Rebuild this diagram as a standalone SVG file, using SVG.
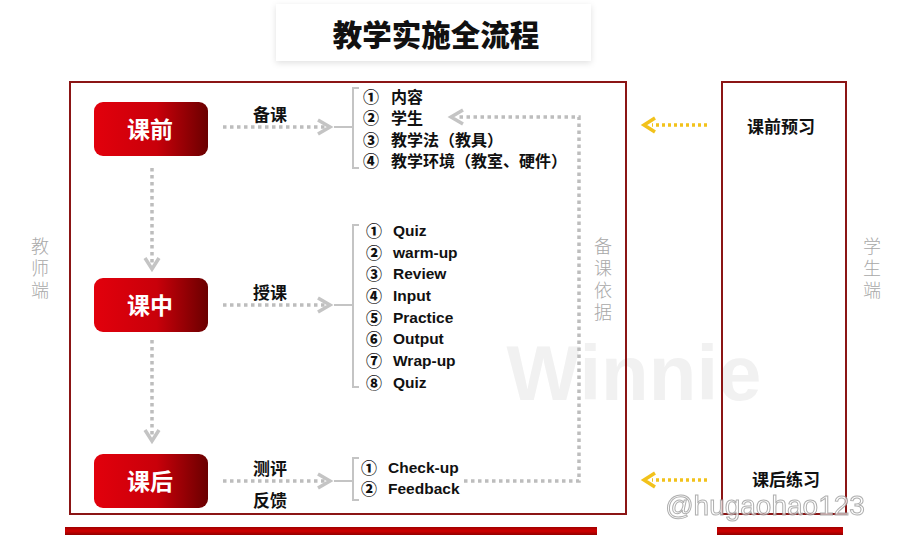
<svg xmlns="http://www.w3.org/2000/svg" width="898" height="538" viewBox="0 0 898 538">
<defs>
<linearGradient id="nodeGrad" x1="0" y1="0" x2="1" y2="0">
<stop offset="0" stop-color="#e2000c"/>
<stop offset="0.55" stop-color="#c9000a"/>
<stop offset="1" stop-color="#6a0000"/>
</linearGradient>
<linearGradient id="barGrad" x1="0" y1="0" x2="0" y2="1">
<stop offset="0" stop-color="#a00000"/>
<stop offset="0.5" stop-color="#d00000"/>
<stop offset="1" stop-color="#900000"/>
</linearGradient>
<filter id="shadow" x="-10%" y="-30%" width="120%" height="170%">
<feDropShadow dx="0" dy="2" stdDeviation="3" flood-color="#000" flood-opacity="0.12"/>
</filter>
</defs>
<style>
.frame{fill:none;stroke:#8b1515;stroke-width:2}
.dot{fill:none;stroke:#bdbdbd;stroke-width:3.5;stroke-dasharray:3.5 3.5}
.doty{fill:none;stroke:#f2c21b;stroke-width:3.5;stroke-dasharray:3 3}
.chev{fill:none;stroke:#c4c4c4;stroke-width:3.5}
.chevy{fill:none;stroke:#f2c21b;stroke-width:3.5}
.solid{fill:none;stroke:#c4c4c4;stroke-width:2}
.node{fill:url(#nodeGrad)}
.nlabel{font-family:"Noto Sans CJK SC","Noto Sans",sans-serif;font-weight:700;font-size:23px;fill:#fff;text-anchor:middle;dominant-baseline:central}
.lab{font-family:"Noto Sans CJK SC",sans-serif;font-weight:700;font-size:17px;fill:#111;text-anchor:middle;dominant-baseline:central}
.list{font-family:"Noto Sans CJK SC",sans-serif;font-weight:700;font-size:16px;fill:#111;dominant-baseline:central}
.num{font-family:"Noto Sans CJK SC",sans-serif;font-weight:900;font-size:16px}
.en{font-family:"Liberation Sans",Arial,sans-serif;font-weight:700;font-size:15.5px}
.side{font-family:"Noto Sans CJK SC",sans-serif;font-weight:300;font-size:18px;fill:#a8a8a8;writing-mode:vertical-rl;letter-spacing:4px}
</style>
<rect x="0" y="0" width="898" height="538" fill="#fff"/>

<!-- watermark -->
<text x="634" y="373" font-family="Liberation Sans,Arial,sans-serif" font-weight="700" font-size="78" fill="#f1f1f1" text-anchor="middle" dominant-baseline="central">Winnie</text>

<!-- title -->
<g id="title">
<rect x="276" y="4" width="315" height="57" fill="#fff" filter="url(#shadow)"/>
<text x="436" y="33" font-family="Noto Sans CJK SC,sans-serif" font-weight="900" font-size="29.5" fill="#111" text-anchor="middle" dominant-baseline="central">教学实施全流程</text>
</g>

<!-- frames -->
<g id="teacher-frame">
<rect class="frame" x="70" y="82" width="556" height="432"/>
<rect x="65" y="527" width="532" height="8" fill="url(#barGrad)"/>
</g>
<g id="student-frame">
<rect class="frame" x="722" y="82" width="124" height="432"/>
<rect x="717" y="527" width="126" height="8" fill="url(#barGrad)"/>
</g>

<!-- side labels -->
<g id="teacher-side">
<text class="side" x="40" y="237">教师端</text>
</g>
<g id="student-side">
<text class="side" x="872" y="237">学生端</text>
</g>
<g id="basis-label">
<text class="side" x="603" y="237">备课依据</text>
</g>

<!-- connectors -->
<g id="connectors">
<line class="dot" x1="223" y1="127" x2="327" y2="127"/>
<path class="chev" d="M318,120 L330,127 L318,134"/>
<line class="solid" x1="334" y1="127" x2="352" y2="127"/>

<line class="dot" x1="223" y1="305" x2="327" y2="305"/>
<path class="chev" d="M318,298 L330,305 L318,312"/>
<line class="solid" x1="334" y1="305" x2="352" y2="305"/>

<line class="dot" x1="223" y1="481" x2="327" y2="481"/>
<path class="chev" d="M318,474 L330,481 L318,488"/>
<line class="solid" x1="334" y1="481" x2="352" y2="481"/>

<line class="dot" x1="152" y1="168" x2="152" y2="266"/>
<path class="chev" d="M145,258 L152,269 L159,258"/>
<line class="dot" x1="152" y1="340" x2="152" y2="438"/>
<path class="chev" d="M145,430 L152,441 L159,430"/>

<polyline class="dot" points="464,481 579,481 579,117 458,117"/>
<path class="chev" d="M463,110 L451,117 L463,124"/>

<line class="doty" x1="707" y1="125" x2="652" y2="125"/>
<path class="chevy" d="M655,118 L644,125 L655,132"/>
<line class="doty" x1="707" y1="480" x2="652" y2="480"/>
<path class="chevy" d="M655,473 L644,480 L655,487"/>

<path class="solid" d="M359,88 L353,88 L353,168 L359,168"/>
<path class="solid" d="M359,225 L353,225 L353,387 L359,387"/>
<path class="solid" d="M359,458 L353,458 L353,500 L359,500"/>

<text class="lab" x="270" y="113">备课</text>
<text class="lab" x="270" y="291">授课</text>
<text class="lab" x="270" y="467">测评</text>
<text class="lab" x="270" y="499">反馈</text>
</g>

<!-- nodes -->
<g id="node-pre">
<rect class="node" x="94" y="102" width="114" height="54" rx="9"/>
<text class="nlabel" x="150" y="128">课前</text>
</g>
<g id="node-in">
<rect class="node" x="94" y="278" width="114" height="54" rx="9"/>
<text class="nlabel" x="150" y="304">课中</text>
</g>
<g id="node-post">
<rect class="node" x="94" y="454" width="114" height="54" rx="9"/>
<text class="nlabel" x="150" y="480">课后</text>
</g>

<g id="list-pre">
<text class="list">
<tspan class="num" x="363" y="96">①</tspan><tspan x="391" y="96">内容</tspan>
<tspan class="num" x="363" y="117">②</tspan><tspan x="391" y="117">学生</tspan>
<tspan class="num" x="363" y="139">③</tspan><tspan x="391" y="139">教学法（教具）</tspan>
<tspan class="num" x="363" y="160">④</tspan><tspan x="391" y="160">教学环境（教室、硬件）</tspan>
</text>
</g>

<g id="list-in">
<text class="list">
<tspan class="num" x="366" y="230">①</tspan><tspan class="en" x="393" y="230">Quiz</tspan>
<tspan class="num" x="366" y="252">②</tspan><tspan class="en" x="393" y="252">warm-up</tspan>
<tspan class="num" x="366" y="273">③</tspan><tspan class="en" x="393" y="273">Review</tspan>
<tspan class="num" x="366" y="295">④</tspan><tspan class="en" x="393" y="295">Input</tspan>
<tspan class="num" x="366" y="317">⑤</tspan><tspan class="en" x="393" y="317">Practice</tspan>
<tspan class="num" x="366" y="338">⑥</tspan><tspan class="en" x="393" y="338">Output</tspan>
<tspan class="num" x="366" y="360">⑦</tspan><tspan class="en" x="393" y="360">Wrap-up</tspan>
<tspan class="num" x="366" y="382">⑧</tspan><tspan class="en" x="393" y="382">Quiz</tspan>
</text>
</g>

<g id="list-post">
<text class="list">
<tspan class="num" x="361" y="467">①</tspan><tspan class="en" x="388" y="467">Check-up</tspan>
<tspan class="num" x="361" y="488">②</tspan><tspan class="en" x="388" y="488">Feedback</tspan>
</text>
</g>

<g id="student-pre">
<text class="lab" x="781" y="125">课前预习</text>
</g>
<g id="student-post">
<text class="lab" x="786" y="478">课后练习</text>
</g>

<text x="765" y="505" font-family="Liberation Sans,Arial,sans-serif" font-size="28" fill="#fff" stroke="#9a9a9a" stroke-width="1" text-anchor="middle" dominant-baseline="central" opacity="0.8">@hugaohao123</text>
</svg>
